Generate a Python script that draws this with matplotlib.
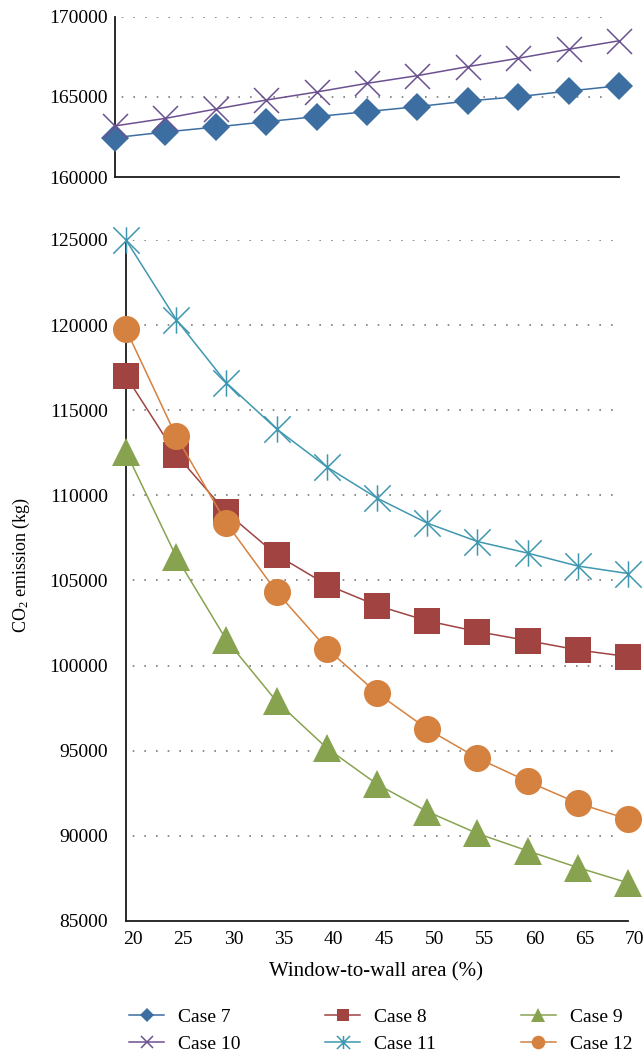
import matplotlib
matplotlib.use("Agg")
import matplotlib.pyplot as plt
from matplotlib.path import Path
import matplotlib.transforms as mtransforms

plt.rcParams['font.family'] = ['Liberation Serif', 'DejaVu Serif']
plt.rcParams['mathtext.fontset'] = 'custom'
plt.rcParams['mathtext.rm'] = 'Liberation Serif'
plt.rcParams['mathtext.it'] = 'Liberation Serif:italic'

# ---- data ----
wwr = [20, 25, 30, 35, 40, 45, 50, 55, 60, 65, 70]
case7 = [162470, 162820, 163130, 163460, 163780, 164090, 164400, 164750, 165020, 165370, 165700]
case10 = [163200, 163670, 164250, 164810, 165310, 165850, 166330, 166890, 167410, 167970, 168500]
case8 = [117000, 112400, 109000, 106500, 104750, 103530, 102630, 102000, 101470, 100920, 100530]
case9 = [112550, 106400, 101510, 97900, 95160, 93040, 91430, 90140, 89120, 88140, 87240]
case11 = [125000, 120330, 116610, 113900, 111670, 109840, 108370, 107290, 106610, 105850, 105410]
case12 = [119750, 113470, 108370, 104330, 101000, 98390, 96280, 94570, 93200, 91920, 90980]

top_yticks = [160000, 165000, 170000]
bot_yticks = [85000, 90000, 95000, 100000, 105000, 110000, 115000, 120000, 125000]
xlabel = 'Window-to-wall area (%)'
ylabel = 'CO$_2$ emission (kg)'

# colours
c7, c8, c9 = '#3D6EA2', '#A04341', '#88A34F'
c10, c11, c12 = '#6C5191', '#3F98B0', '#D5813F'

# asterisk marker (X with a vertical bar)
star = Path([(-0.5, -0.5), (0.5, 0.5), (-0.5, 0.5), (0.5, -0.5), (0, -0.5), (0, 0.5)],
            [Path.MOVETO, Path.LINETO, Path.MOVETO, Path.LINETO, Path.MOVETO, Path.LINETO])

W, H = 644, 1063
fig = plt.figure(figsize=(W / 100, H / 100), dpi=100)

ax_top = fig.add_axes([115 / W, 1 - 177.3 / H, (619 - 115) / W, (177.3 - 16.7) / H])
ax_bot = fig.add_axes([126 / W, 1 - 921 / H, (628 - 126) / W, (921 - 240) / H])

lw = 1.1
grid_kw = dict(colors='#7a7a7a', linestyles=(3, (1, 6)), linewidth=1.2, zorder=1)

# ---- top panel ----
ax_top.set_xlim(20, 70)
ax_top.set_ylim(160000, 170000)
ax_top.hlines([165000, 170000], 20, 69, **grid_kw)
h7, = ax_top.plot(wwr, case7, color=c7, lw=lw, marker='D', ms=14, mew=0,
                  label='Case 7', clip_on=False, zorder=3)
h10, = ax_top.plot(wwr, case10, color=c10, lw=lw, marker='x', ms=18, mew=1.1,
                   label='Case 10', clip_on=False, zorder=4)
ax_top.set_xticks([])
ax_top.set_yticks(top_yticks)
ax_top.set_yticklabels([str(v) for v in top_yticks])
ax_top.tick_params(axis='y', length=0, pad=5, labelsize=14)

# ---- bottom panel ----
ax_bot.set_xlim(20, 70)
ax_bot.set_ylim(85000, 125000)
ax_bot.hlines(bot_yticks[1:], 20, 69, **grid_kw)
h8, = ax_bot.plot(wwr, case8, color=c8, lw=lw, marker='s', ms=18.7, mew=0,
                  label='Case 8', clip_on=False, zorder=3)
h9, = ax_bot.plot(wwr, case9, color=c9, lw=lw, marker='^', ms=19.5, mew=0,
                  label='Case 9', clip_on=False, zorder=3)
h11, = ax_bot.plot(wwr, case11, color=c11, lw=lw, marker=star, ms=19, mew=1.1,
                   label='Case 11', clip_on=False, zorder=3)
h12, = ax_bot.plot(wwr, case12, color=c12, lw=lw, marker='o', ms=19.5, mew=0,
                   label='Case 12', clip_on=False, zorder=3)
ax_bot.set_xticks(wwr)
ax_bot.set_xticklabels([str(v) for v in wwr])
ax_bot.set_yticks(bot_yticks)
ax_bot.set_yticklabels([str(v) for v in bot_yticks])
ax_bot.tick_params(axis='y', length=0, pad=13, labelsize=14)
ax_bot.tick_params(axis='x', length=0, pad=7.5, labelsize=14)
offset = mtransforms.ScaledTranslation(7 / 100, 0, fig.dpi_scale_trans)
for lab in ax_bot.get_xticklabels():
    lab.set_transform(lab.get_transform() + offset)

for ax in (ax_top, ax_bot):
    for s in ('top', 'right'):
        ax.spines[s].set_visible(False)
    for s in ('left', 'bottom'):
        ax.spines[s].set_linewidth(1.3)
        ax.spines[s].set_color('#1a1a1a')

fig.text(376 / W, 1 - 972 / H, xlabel, ha='center', va='center', fontsize=15)
fig.text(21.7 / W, 1 - 565 / H, ylabel, ha='center', va='center', rotation=90, fontsize=13)

handles = [h7, h10, h8, h11, h9, h12]
fig.legend(handles=handles, labels=[h.get_label() for h in handles], ncol=3,
           loc='upper left', bbox_to_anchor=(129 / W, 1 - 1008 / H),
           frameon=False, fontsize=14, markerscale=0.5, handlelength=1.8,
           handletextpad=0.72, columnspacing=4.35, labelspacing=0.5,
           borderpad=0, borderaxespad=0)

fig.savefig('out.png', dpi=100)
